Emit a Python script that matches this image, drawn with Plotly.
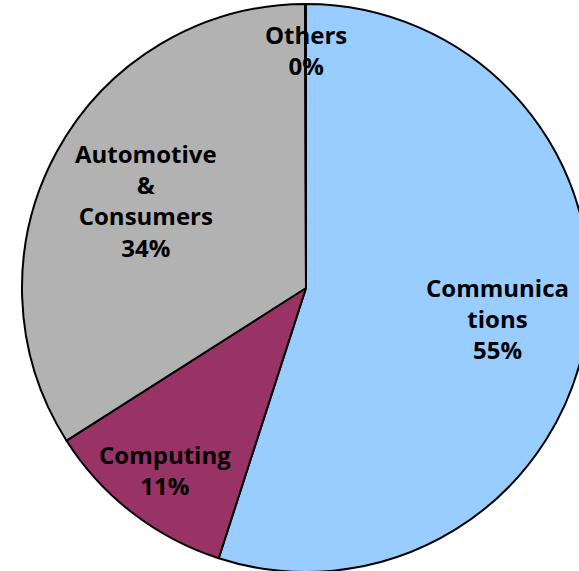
import math
import plotly.graph_objects as go

# ---- data ----
categories = ["Communications", "Computing", "Automotive & Consumers", "Others"]
label_text = ["Communica<br>tions", "Computing", "Automotive<br>&<br>Consumers", "Others"]
values = [55, 11, 34, 0.05]

# ---- style ----
colors = ["#99CCFF", "#993366", "#B2B2B2", "#FFFFCC"]
label_radius = [0.681, 0.811, 0.64, 0.838]  # fraction of pie radius for each label

W, H = 612, 576
R = 284  # pie radius in px
dom_y = [(H / 2 - R) / H, (H / 2 + R) / H]

fig = go.Figure(go.Pie(
    labels=categories,
    values=values,
    sort=False,
    direction="clockwise",
    rotation=0,
    marker=dict(colors=colors, line=dict(color="black", width=2)),
    textinfo="none",
    hoverinfo="label+percent",
    domain=dict(x=[0, 1], y=dom_y),
    showlegend=False,
))

total = sum(values)
cum = 0.0
annotations = []
for txt, v, f in zip(label_text, values, label_radius):
    mid = (cum + v / 2) / total * 2 * math.pi
    cum += v
    pct = round(v / total * 100)
    x = 0.5 + f * R * math.sin(mid) / W
    y = 0.5 + f * R * math.cos(mid) / H
    annotations.append(dict(
        x=x, y=y, xref="paper", yref="paper",
        text=f"{txt}<br>{pct}%", showarrow=False,
        xanchor="center", yanchor="middle",
        font=dict(family="Open Sans", size=24, color="black", weight="bold"),
        align="center",
    ))

fig.update_layout(
    width=W, height=H,
    margin=dict(l=0, r=0, t=0, b=0),
    paper_bgcolor="white",
    plot_bgcolor="white",
    annotations=annotations,
)

fig.write_html(
    "out.html",
    config={"displayModeBar": False},
    post_script="document.body.style.margin='0';document.body.style.overflow='hidden';",
)
